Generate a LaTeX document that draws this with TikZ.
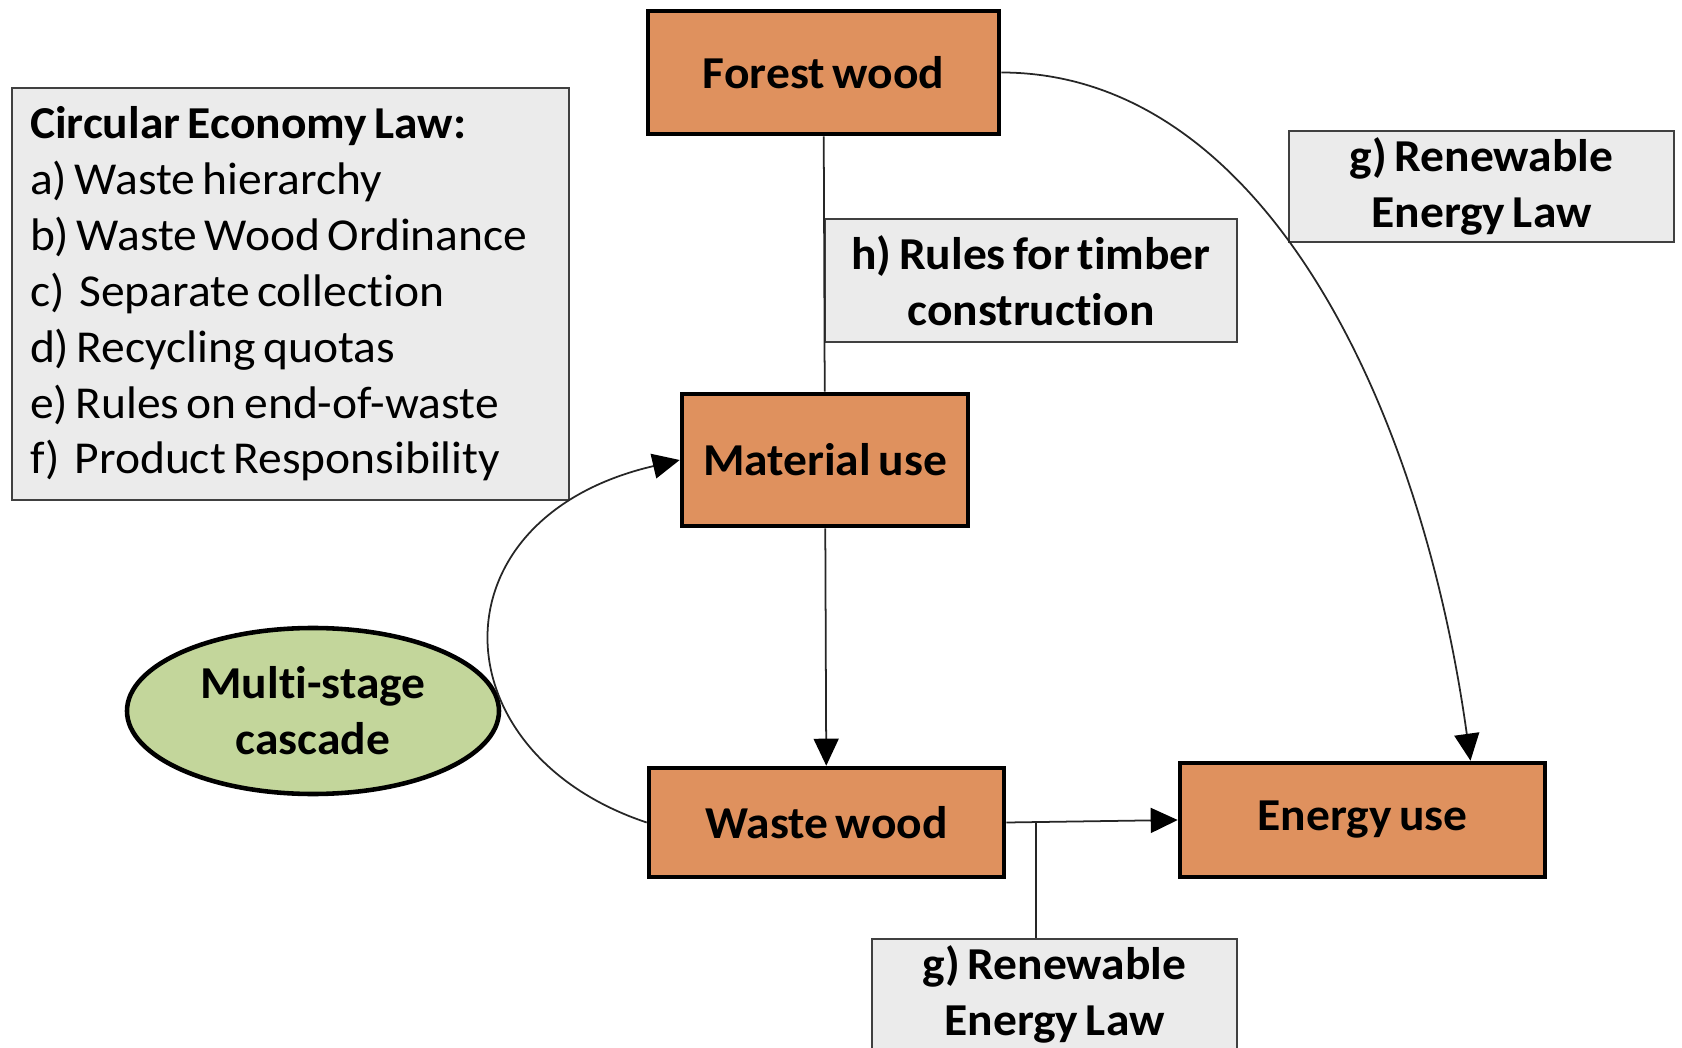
\documentclass[tikz,border=0pt]{standalone}
\usepackage{fontspec}
\setmainfont{Carlito}[FakeStretch=1.04,WordSpace=0.7,Ligatures=NoCommon]
\usetikzlibrary{shapes,arrows.meta}

\definecolor{woodorange}{RGB}{223,145,94}
\definecolor{cascadegreen}{RGB}{195,214,155}
\definecolor{lawgray}{RGB}{235,235,235}

\begin{document}
\begin{tikzpicture}
[font=\fontsize{13}{15.9}\selectfont]
\tikzstyle{usebox}=[draw,line width=1.3pt,fill=woodorange,inner sep=0pt,font=\fontsize{13}{15.9}\selectfont\bfseries]
\tikzstyle{lawbox}=[draw=black!75,line width=0.6pt,fill=lawgray,inner sep=0pt,align=center,font=\fontsize{13}{15.9}\selectfont\bfseries]
\tikzstyle{flow}=[draw=black!85,line width=0.5pt]
\tikzstyle{flowtip}=[-{Triangle[length=0.27cm,width=0.25cm,color=black]}]
\useasboundingbox (0,0) rectangle (16.82,10.47);
\node[usebox,minimum width=3.51cm,minimum height=1.23cm] (forest) at (8.235,9.745) {Forest wood};
\node[usebox,minimum width=2.86cm,minimum height=1.32cm] (material) at (8.25,5.87) {Material use};
\node[usebox,minimum width=3.55cm,minimum height=1.09cm] (waste) at (8.265,2.245) {Waste wood};
\node[usebox,minimum width=3.65cm,minimum height=1.14cm] (energy) at (13.625,2.27) {Energy use};
\node[ellipse,draw,line width=1.3pt,fill=cascadegreen,minimum width=3.72cm,minimum height=1.66cm,align=center,font=\fontsize{13}{15.9}\selectfont\bfseries] (cascade) at (3.13,3.36) {Multi-stage\\cascade};
\node[lawbox,minimum width=5.57cm,minimum height=4.12cm,text width=5.21cm,inner xsep=0.18cm,align=flush left,font=\fontsize{13}{15.9}\selectfont] (ceLaw) at (2.905,7.53)
    {{\bfseries Circular Economy Law:}\\
     a) Waste hierarchy\\
     b) Waste Wood Ordinance\\
     c)\ \ Separate collection\\
     d) Recycling quotas\\
     e) Rules on end-of-waste\\
     f)\ \ Product Responsibility};
\node[lawbox,minimum width=4.12cm,minimum height=1.23cm] (timber) at (10.31,7.665) {h) Rules for timber\\construction};
\node[lawbox,minimum width=3.85cm,minimum height=1.11cm] (reTop) at (14.815,8.605) {g) Renewable\\Energy Law};
\node[lawbox,minimum width=3.65cm,minimum height=1.11cm] (reBottom) at (10.545,0.525) {g) Renewable\\Energy Law};
\coordinate (split) at (10.36,2.25);
\draw[flow] (forest) -- (material);
\draw[flow,flowtip] (material) -- (waste);
\draw[flow,flowtip] (waste.east) -- (energy.west);
\draw[flow] (split) -- (split |- reBottom.north);
\draw[flow,flowtip] (forest.east) .. controls +(2.6,0) and +(-0.5,3.6) .. ([xshift=1.08cm]energy.north);
\draw[flow,flowtip] (waste.west) .. controls +(-2.1,0.7) and +(-2.5,-0.58) .. (material.west);
\end{tikzpicture}
\end{document}
